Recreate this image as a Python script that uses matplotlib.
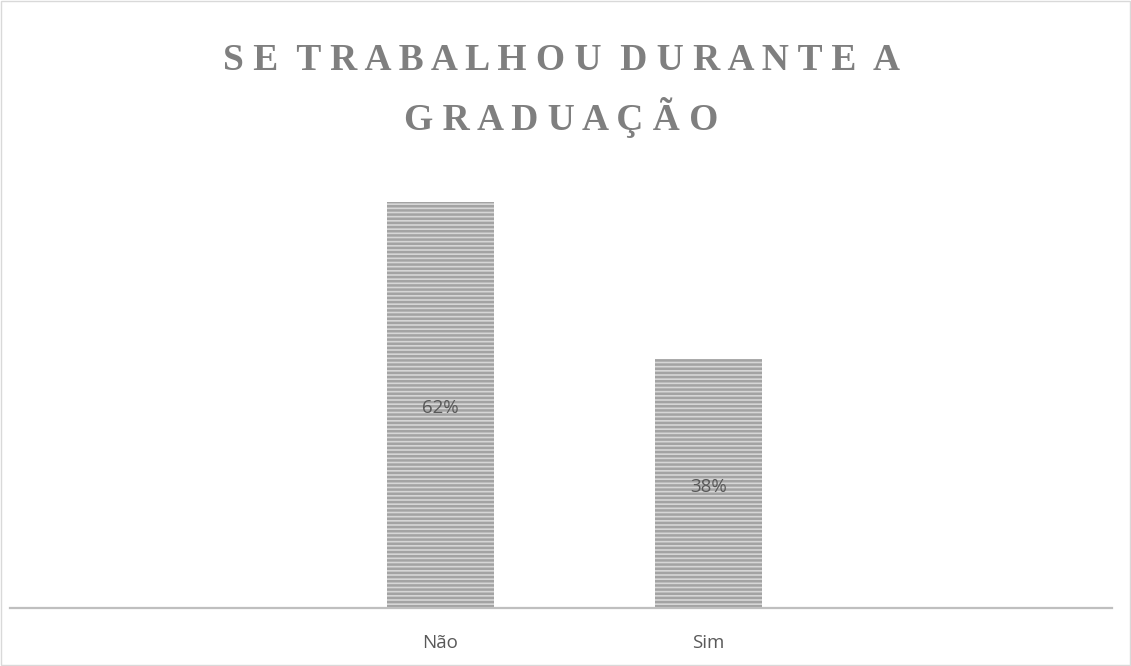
"""
Bar chart: se trabalhou durante a graduação
"""
import matplotlib.pyplot as plt
from matplotlib.patches import Rectangle

categories = ['Não', 'Sim']
values = [62, 38]
value_labels = ['62%', '38%']
title_lines = ['SE TRABALHOU DURANTE A', 'GRADUAÇÃO']


def spaced(line):
    # mimic the wide letter spacing of the original title
    return '  '.join(' '.join(word) for word in line.split(' '))


plt.rcParams['hatch.linewidth'] = 1.8
plt.rcParams['hatch.color'] = '#a3a3a3'

fig = plt.figure(figsize=(11.31, 6.66), dpi=100)
ax = fig.add_axes([10 / 1131, 1 - 608 / 666, 1102 / 1131, 458 / 666])

x = list(range(len(categories)))
bars = ax.bar(x, values, width=0.4, color='#d6d6d6', edgecolor='#a3a3a3',
              linewidth=0, hatch='----')

for bar, lab in zip(bars, value_labels):
    ax.text(bar.get_x() + bar.get_width() / 2, bar.get_height() / 2 - 0.5, lab,
            ha='center', va='center', fontsize=13.5, color='#595959',
            family='Open Sans')

ax.set_xlim(-1.606, 2.506)
ax.set_ylim(0, 70)
ax.set_xticks(x)
ax.set_xticklabels(categories, fontsize=13.5, color='#595959', family='Open Sans')
ax.tick_params(axis='x', length=0, pad=19)
ax.set_yticks([])
for side in ['top', 'left', 'right']:
    ax.spines[side].set_visible(False)
ax.spines['bottom'].set_color('#bfbfbf')
ax.spines['bottom'].set_linewidth(1.6)

fig.text(0.4965, 1 - 61 / 666, spaced(title_lines[0]), ha='center', va='center',
         fontsize=27, fontweight='bold', color='#7f7f7f', family='Liberation Serif')
fig.text(0.4965, 1 - 118 / 666, spaced(title_lines[1]), ha='center', va='center',
         fontsize=27, fontweight='bold', color='#7f7f7f', family='Liberation Serif')

# thin frame around the whole chart
fig.patches.append(Rectangle((0.001, 0.001), 0.998, 0.998, transform=fig.transFigure,
                             fill=False, edgecolor='#d9d9d9', linewidth=1))

fig.savefig('out.png', dpi=100)
plt.close()
